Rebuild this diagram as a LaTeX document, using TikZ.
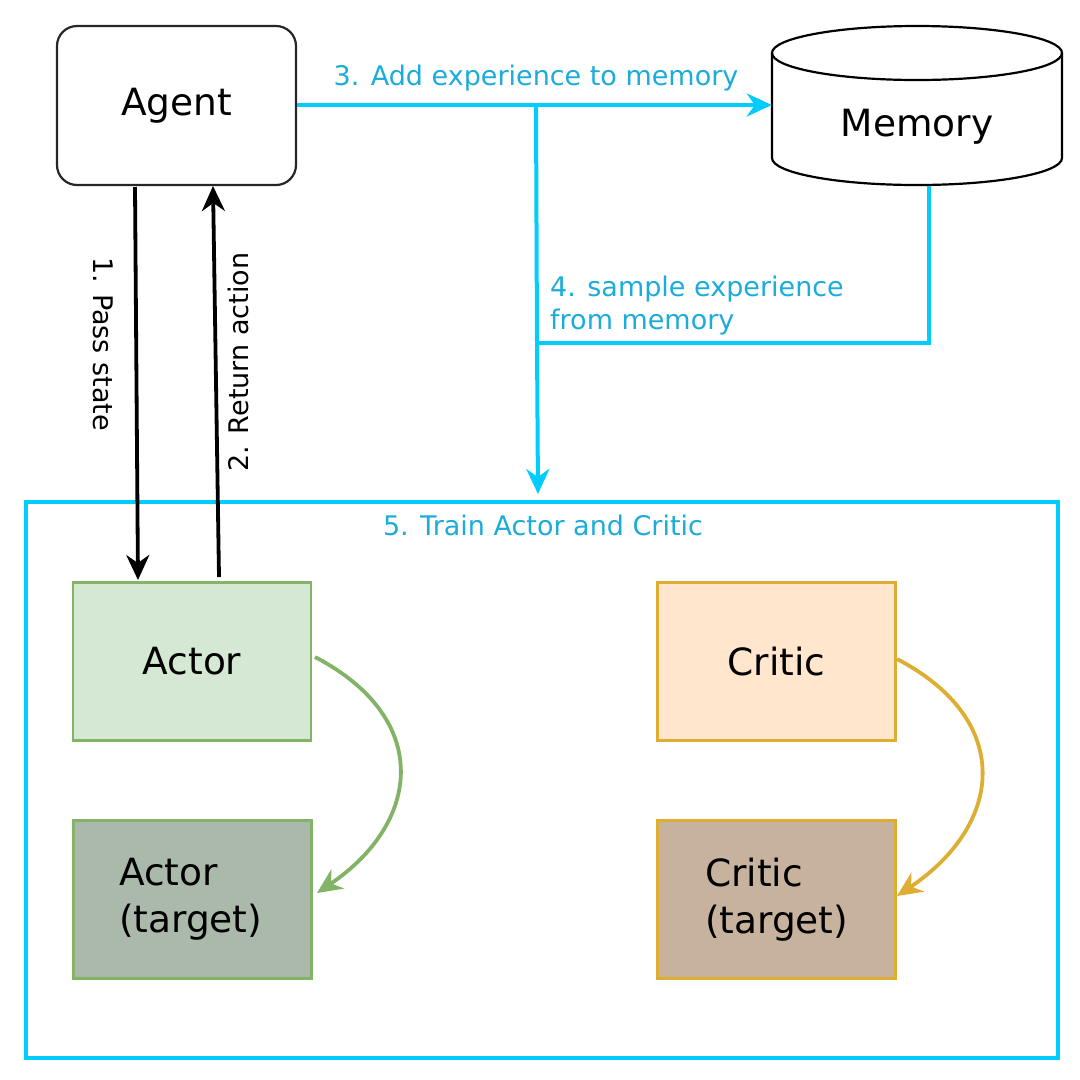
\documentclass[tikz,border=0pt]{standalone}
\usepackage{fontspec}
\setmainfont{DejaVu Sans}
\usetikzlibrary{arrows.meta}
\definecolor{cyanline}{RGB}{0,204,255}
\definecolor{cyantext}{RGB}{27,172,218}
\definecolor{actorfill}{RGB}{213,232,212}
\definecolor{actorline}{RGB}{130,179,102}
\definecolor{actortfill}{RGB}{170,185,170}
\definecolor{criticfill}{RGB}{255,230,204}
\definecolor{criticline}{RGB}{222,174,50}
\definecolor{critictfill}{RGB}{199,178,158}
\tikzset{
  bigtext/.style={font=\fontsize{37.5}{47}\selectfont},
  smalltext/.style={font=\fontsize{27}{33}\selectfont},
  agentbox/.style={draw=black!85, line width=2.2pt, rounded corners=20pt, minimum width=239pt, minimum height=159pt, bigtext},
  netbox/.style={line width=2.2pt, minimum width=238pt, minimum height=158pt, bigtext},
  bigtip/.style={-{Stealth[length=25pt,width=23pt,inset=8pt]}},
  cyanarrow/.style={draw=cyanline, line width=4pt, bigtip},
  cyanplain/.style={draw=cyanline, line width=4pt},
  blackarrow/.style={draw=black, line width=3.8pt, bigtip},
  curvearrow/.style={line width=3.8pt, bigtip},
  cyanlabel/.style={smalltext, text=cyantext, inner sep=0pt},
  blacklabel/.style={smalltext, text=black, inner sep=0pt},
}
\begin{document}
\begin{tikzpicture}[x=1pt,y=-1pt]
\useasboundingbox (0,0) rectangle (1080,1080);
% agent
\node[agentbox] (agent) at (176.5,105.5) {Agent};
% memory cylinder
\node[minimum width=290pt, minimum height=159pt, inner sep=0pt] (memory) at (917,105.5) {};
\draw[line width=2.2pt, fill=white] (772,53) -- (772,158) arc[start angle=180, end angle=0, x radius=145, y radius=27] -- (1062,53);
\draw[line width=2.2pt] (917,53) ellipse [x radius=145, y radius=27];
\node[bigtext] (memlabel) at (917,127) {Memory};
% training box
\node[draw=cyanline, line width=4pt, minimum width=1032pt, minimum height=556pt, inner sep=0pt] (train) at (542,780) {};
\node[cyanlabel] (trainlabel) at (543,525) {5. Train Actor and Critic};
% networks
\node[netbox, draw=actorline, fill=actorfill] (actor) at (192,661.5) {Actor};
\node[netbox, draw=actorline, fill=actortfill, align=left, text width=147pt, inner sep=0pt] (actort) at (192.5,899.5) {Actor\\(target)};
\node[netbox, draw=criticline, fill=criticfill] (critic) at (776.5,661.5) {Critic};
\node[netbox, draw=criticline, fill=critictfill, align=left, text width=143pt, inner sep=0pt] (critict) at (776.5,899.5) {Critic\\(target)};
% black arrows
\coordinate (ps1) at (135,187);
\coordinate (ps2) at (138,580);
\coordinate (ra1) at (219,577);
\coordinate (ra2) at (213,186);
\draw[blackarrow] (ps1) -- (ps2);
\draw[blackarrow] (ra1) -- (ra2);
\node[blacklabel, rotate=-90] (passlabel) at (103,344) {1. Pass state};
\node[blacklabel, rotate=90] (retlabel) at (238,362) {2. Return action};
% cyan connectors
\coordinate (junc1) at (536,105);
\coordinate (junc2) at (537,343);
\coordinate (membot) at (929,186);
\coordinate (memcorner) at (929,343);
\coordinate (traintop) at (538,494);
\draw[cyanarrow] (agent.east |- 0,105) -- (memory.west |- 0,105);
\draw[cyanplain] (junc1) -- (junc2);
\draw[cyanplain] (membot) -- (memcorner) -- (junc2);
\draw[cyanarrow] (junc2) -- (traintop);
\node[cyanlabel] (addlabel) at (536,78) {3. Add experience to memory};
\node[cyanlabel, anchor=west, align=left] (samplelabel) at (550,306) {4. sample experience\\from memory};
% target update curves
\coordinate (ac1) at (315,657);
\coordinate (ac2) at (317,893);
\coordinate (cc1) at (897,659);
\coordinate (cc2) at (897,896);
\draw[actorline, curvearrow] (ac1) .. controls (432,718) and (422,822) .. (ac2);
\draw[criticline, curvearrow] (cc1) .. controls (1014,720) and (1004,824) .. (cc2);
\end{tikzpicture}
\end{document}
